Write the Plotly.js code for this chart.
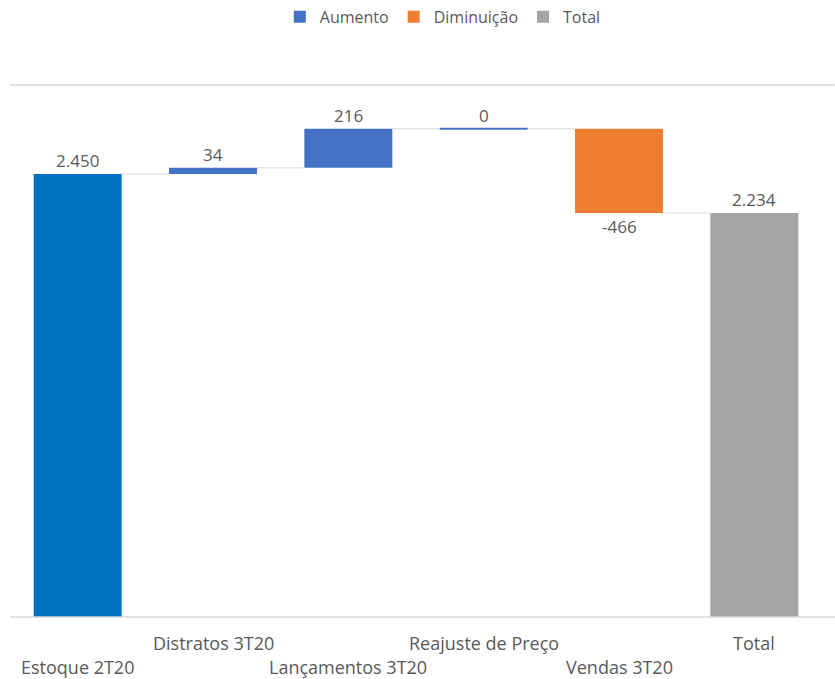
<!DOCTYPE html>
<html>
<head>
<meta charset="utf-8">
<script src="https://cdn.plot.ly/plotly-3.0.1.min.js"></script>
<style>
  html, body { margin: 0; padding: 0; background: #ffffff; }
  #chart { width: 835px; height: 679px; }
</style>
</head>
<body>
<div id="chart"></div>
<script>
// Estoque bridge: opening stock, movements of the quarter, closing total
const categories = ['Estoque 2T20', 'Distratos 3T20', 'Lançamentos 3T20', 'Reajuste de Preço', 'Vendas 3T20', 'Total'];
const values = [2450, 34, 216, 0, -466, 2234];
const kinds = ['start', 'delta', 'delta', 'delta', 'delta', 'total'];
const labelRow = [1, 0, 1, 0, 1, 0];   // 0 = upper line, 1 = lower line

const COLORS = {
  start: '#0070C0',
  up: '#4472C4',
  down: '#ED7D31',
  total: '#A5A5A5',
  connector: '#D9D9D9',
  text: '#595959'
};
const FONT = '"Open Sans", "Noto Sans", sans-serif';
const HALF = 0.325;   // half bar width in category units

function fmt(v) {
  const s = Math.abs(v).toString().replace(/\B(?=(\d{3})+(?!\d))/g, '.');
  return (v < 0 ? '-' : '') + s;
}

// running levels: base and end of every bar
const bases = [], ends = [];
let level = 0;
values.forEach((v, i) => {
  if (kinds[i] === 'delta') {
    bases.push(level);
    level += v;
    ends.push(level);
  } else {
    bases.push(0);
    ends.push(v);
    level = v;
  }
});

const idx = categories.map((_, i) => i);
function pick(test) {
  const xs = [], ys = [], bs = [];
  idx.forEach(i => { if (test(i)) { xs.push(i); ys.push(ends[i] - bases[i]); bs.push(bases[i]); } });
  return { x: xs, y: ys, base: bs };
}

const barCommon = { type: 'bar', width: 2 * HALF, hoverinfo: 'skip' };

const startBars = Object.assign({}, barCommon, pick(i => kinds[i] === 'start'),
  { name: 'Estoque', showlegend: false, marker: { color: COLORS.start, line: { width: 0 } } });
const upBars = Object.assign({}, barCommon, pick(i => kinds[i] === 'delta' && values[i] >= 0),
  { name: 'Aumento', marker: { color: COLORS.up, line: { width: 0 } } });
const downBars = Object.assign({}, barCommon, pick(i => kinds[i] === 'delta' && values[i] < 0),
  { name: 'Diminuição', marker: { color: COLORS.down, line: { width: 0 } } });
const totalBars = Object.assign({}, barCommon, pick(i => kinds[i] === 'total'),
  { name: 'Total', marker: { color: COLORS.total, line: { width: 0 } } });

// zero-valued movements are drawn as a thin line at their level
const zeroLines = [];
idx.forEach(i => {
  if (kinds[i] === 'delta' && values[i] === 0) {
    zeroLines.push({
      type: 'scatter', mode: 'lines', showlegend: false, hoverinfo: 'skip',
      x: [i - HALF, i + HALF], y: [ends[i], ends[i]],
      line: { color: COLORS.up, width: 2 }
    });
  }
});

// connectors between consecutive bars
const connectors = [];
for (let i = 0; i < categories.length - 1; i++) {
  connectors.push({
    type: 'scatter', mode: 'lines', showlegend: false, hoverinfo: 'skip',
    x: [i + HALF, i + 1 - HALF], y: [ends[i], ends[i]],
    line: { color: COLORS.connector, width: 1 }
  });
}

// value labels: above the bar end, below for decreases
const valueAnnotations = idx.map(i => {
  const neg = values[i] < 0;
  return {
    x: i, y: neg ? ends[i] : Math.max(ends[i], bases[i]), xref: 'x', yref: 'y',
    text: fmt(values[i]), showarrow: false, xanchor: 'center',
    yanchor: neg ? 'top' : 'bottom', yshift: 0,
    font: { family: FONT, size: 17, color: COLORS.text }
  };
});

// category labels in two staggered rows
const catAnnotations = categories.map((c, i) => ({
  x: i, y: 0, xref: 'x', yref: 'y', text: c, showarrow: false,
  yanchor: 'middle', xanchor: 'center',
  yshift: labelRow[i] === 0 ? -26 : -50,
  font: { family: FONT, size: 18, color: COLORS.text }
}));

const layout = {
  width: 835, height: 679,
  margin: { l: 10, r: 13, t: 85, b: 62, autoexpand: false },
  paper_bgcolor: '#ffffff', plot_bgcolor: '#ffffff',
  barmode: 'overlay',
  showlegend: true,
  legend: {
    orientation: 'h', x: 0.533, xanchor: 'center', y: 1.128, yanchor: 'middle',
    font: { family: FONT, size: 16, color: COLORS.text },
    itemwidth: 30, traceorder: 'normal'
  },
  xaxis: {
    range: [-0.5, categories.length - 0.5],
    showgrid: false, zeroline: false, showline: false,
    showticklabels: false, ticks: '', fixedrange: true
  },
  yaxis: {
    range: [0, 2942],
    showgrid: false, zeroline: false, showline: false,
    showticklabels: false, ticks: '', fixedrange: true
  },
  shapes: [
    { type: 'line', xref: 'paper', yref: 'paper', x0: 0, x1: 1.016, y0: 0, y1: 0,
      line: { color: '#D9D9D9', width: 1.5 } },
    { type: 'line', xref: 'paper', yref: 'paper', x0: 0, x1: 1.016, y0: 1, y1: 1,
      line: { color: '#D9D9D9', width: 1.5 } }
  ],
  annotations: [...valueAnnotations, ...catAnnotations]
};

Plotly.newPlot('chart',
  [...connectors, startBars, upBars, downBars, totalBars, ...zeroLines],
  layout, { displayModeBar: false, staticPlot: true });
</script>
</body>
</html>
